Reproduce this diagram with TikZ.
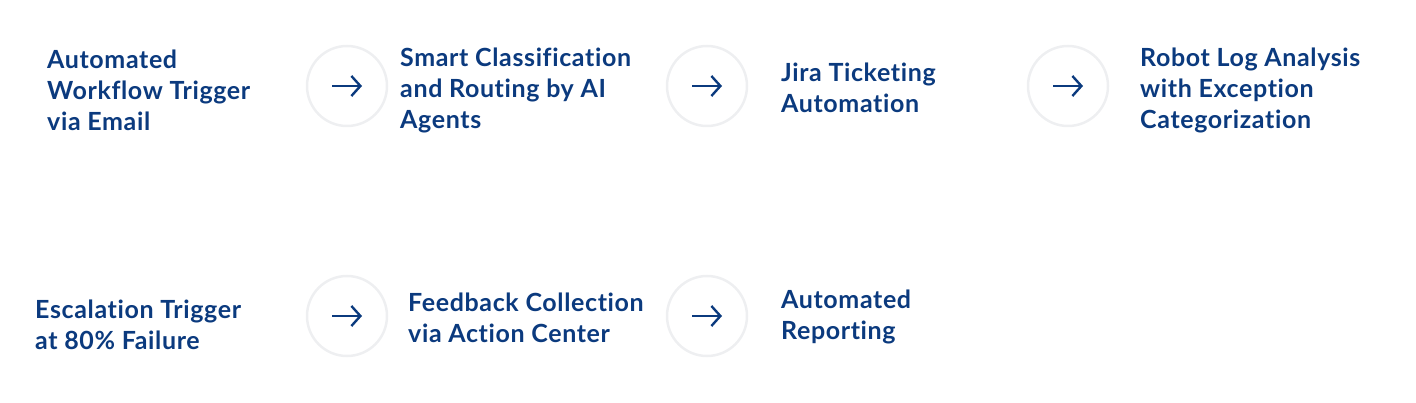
\documentclass[tikz,border=0pt]{standalone}
\usepackage{fontspec}
\usetikzlibrary{arrows.meta}
\setmainfont{Lato}[LetterSpace=2.5,Ligatures=NoCommon]
\definecolor{txt}{HTML}{0B3A7E}
\definecolor{ring}{HTML}{EEEFF1}
\begin{document}
\begin{tikzpicture}[x=1pt,y=1pt,
  lbl/.style={anchor=west,align=left,text=txt,font=\fontsize{25}{31}\selectfont\bfseries,inner sep=0pt},
  circ/.style={circle,draw=ring,line width=2.5pt,minimum size=80pt,inner sep=0pt},
  arr/.style={draw=txt,line width=2.4pt,-{Straight Barb[length=9pt,width=20pt]}}]
\useasboundingbox (0,0) rectangle (1416,402);
\node[lbl] (a) at (47,312) {Automated\\Workflow Trigger\\via Email};
\node[lbl] (b) at (400,312) {Smart Classification\\and Routing by AI\\Agents};
\node[lbl] (c) at (781,314) {Jira Ticketing\\Automation};
\node[lbl] (d) at (1140,312) {Robot Log Analysis\\with Exception\\Categorization};
\node[lbl] (e) at (35,77) {Escalation Trigger\\at 80\% Failure};
\node[lbl] (f) at (408,84) {Feedback Collection\\via Action Center};
\node[lbl] (g) at (781,85) {Automated\\Reporting};
\foreach \n/\x/\y in {c1/347/316,c2/707/316,c3/1068/316,c4/347/86,c5/707/86}{
  \node[circ] (\n) at (\x,\y) {};
  \draw[arr] ([xshift=-15pt]\n.center) -- ([xshift=15pt]\n.center);
}
\end{tikzpicture}
\end{document}
